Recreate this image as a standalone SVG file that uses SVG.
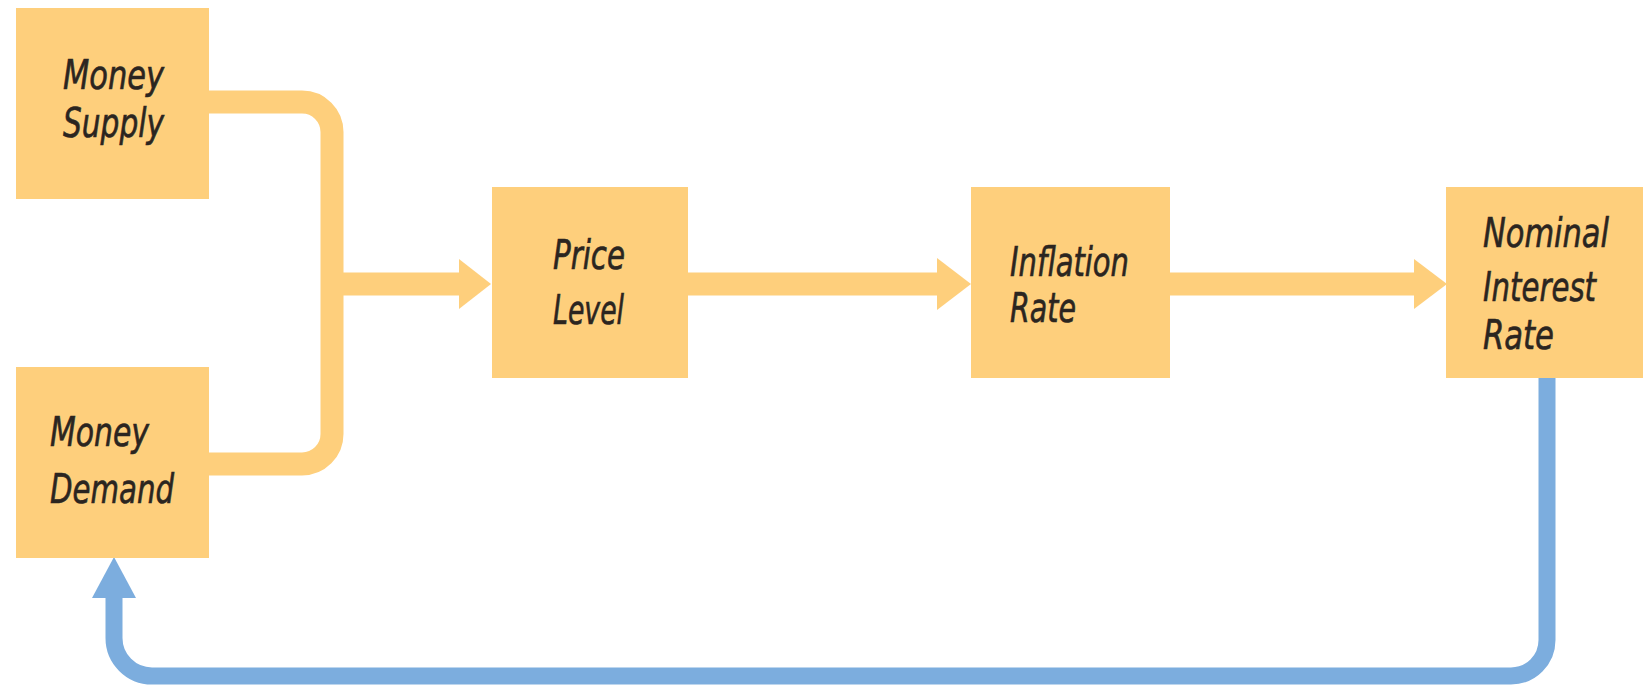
<svg xmlns="http://www.w3.org/2000/svg" width="1643" height="689" viewBox="0 0 1643 689">
<style>
.box{fill:#FECF7C}
.lbl{font-family:"Liberation Sans Narrow","DejaVu Sans Condensed","Liberation Sans",sans-serif;font-style:italic;font-size:40px;fill:#2b2520;stroke:#2b2520;stroke-width:0.6}
.or{fill:none;stroke:#FECF7C;stroke-width:23}
.bl{fill:none;stroke:#7CADDE;stroke-width:17}
.oh{fill:#FECF7C}
.bh{fill:#7CADDE}
</style>
<rect width="1643" height="689" fill="#ffffff"/>
<g id="connectors">
<path class="or" d="M209,102 H302 A30,30 0 0 1 332,132 V434 A30,30 0 0 1 302,464 H209"/>
<path class="or" d="M332,284 H466"/>
<polygon class="oh" points="459,259 491,284 459,309"/>
<path class="or" d="M688,284 H946"/>
<polygon class="oh" points="937,258 971,284 937,310"/>
<path class="or" d="M1170,284 H1422"/>
<polygon class="oh" points="1414,259 1447,284 1414,309"/>
<path class="bl" d="M1547,378 V640 A36,36 0 0 1 1511,676 H152 A38,38 0 0 1 114,638 V590"/>
<polygon class="bh" points="92,598 114,557 136,598"/>
</g>
<g id="money-supply">
<rect class="box" x="16" y="8" width="193" height="191"/>
<text class="lbl" x="63" y="89" textLength="101" lengthAdjust="spacingAndGlyphs">Money</text>
<text class="lbl" x="63" y="137" textLength="101" lengthAdjust="spacingAndGlyphs">Supply</text>
</g>
<g id="money-demand">
<rect class="box" x="16" y="367" width="193" height="191"/>
<text class="lbl" x="50" y="446" textLength="99" lengthAdjust="spacingAndGlyphs">Money</text>
<text class="lbl" x="50" y="503" textLength="124" lengthAdjust="spacingAndGlyphs">Demand</text>
</g>
<g id="price-level">
<rect class="box" x="492" y="187" width="196" height="191"/>
<text class="lbl" x="553" y="269" textLength="72" lengthAdjust="spacingAndGlyphs">Price</text>
<text class="lbl" x="553" y="324" textLength="71" lengthAdjust="spacingAndGlyphs">Level</text>
</g>
<g id="inflation-rate">
<rect class="box" x="971" y="187" width="199" height="191"/>
<text class="lbl" x="1010" y="276" textLength="119" lengthAdjust="spacingAndGlyphs">Inflation</text>
<text class="lbl" x="1010" y="322" textLength="66" lengthAdjust="spacingAndGlyphs">Rate</text>
</g>
<g id="nominal-interest-rate">
<rect class="box" x="1446" y="187" width="197" height="191"/>
<text class="lbl" x="1483" y="247" textLength="126" lengthAdjust="spacingAndGlyphs">Nominal</text>
<text class="lbl" x="1483" y="301" textLength="113" lengthAdjust="spacingAndGlyphs">Interest</text>
<text class="lbl" x="1483" y="349" textLength="71" lengthAdjust="spacingAndGlyphs">Rate</text>
</g>
</svg>
